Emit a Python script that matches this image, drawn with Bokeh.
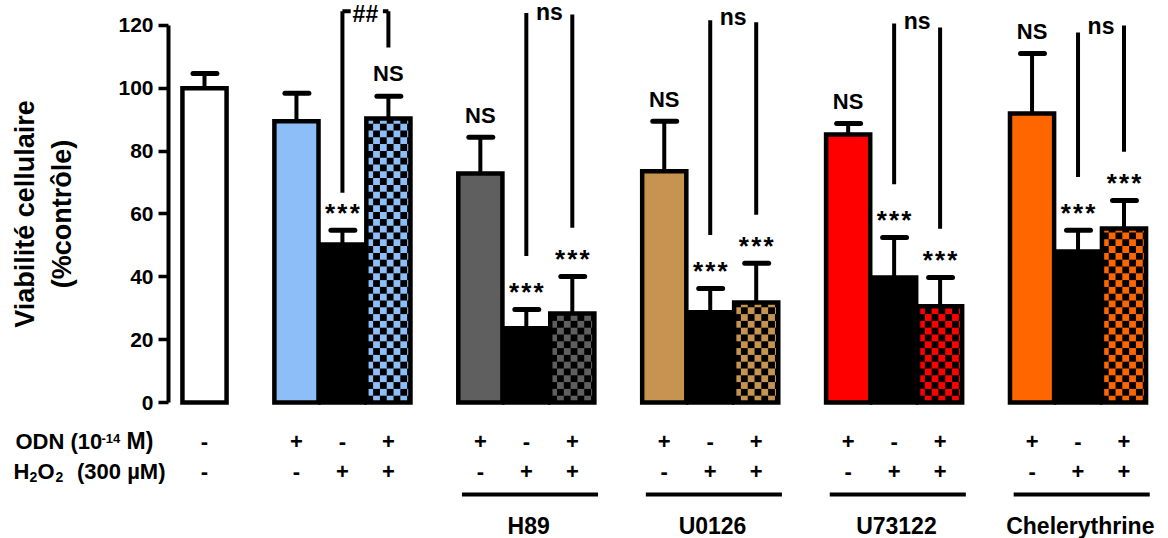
import math
from bokeh.plotting import figure
from bokeh.models import Range1d, FixedTicker
from bokeh.core.properties import value
from bokeh.embed import file_html
from bokeh.resources import INLINE

# ---------------- data ----------------
control_value = 100.0
control_error = 4.7
control_odn = "-"
control_h2o2 = "-"

inhibitors = ["", "H89", "U0126", "U73122", "Chelerythrine"]
colors = ["#8DBEF7", "#5F5F5F", "#C69450", "#FF0000", "#FF6600"]

odn_values = [89.5, 72.9, 73.6, 85.3, 92.0]
odn_errors = [8.9, 11.5, 15.9, 3.5, 19.1]
h2o2_values = [50.3, 23.6, 28.7, 39.8, 48.1]
h2o2_errors = [4.5, 6.0, 7.6, 12.7, 6.7]
combo_values = [90.4, 28.3, 31.8, 30.6, 55.4]
combo_errors = [7.1, 11.8, 12.5, 9.2, 8.9]

odn_row = ["+", "-", "+"]
h2o2_row = ["-", "+", "+"]

sig_odn = ["", "NS", "NS", "NS", "NS"]
sig_h2o2 = ["***", "***", "***", "***", "***"]
sig_combo = ["NS", "***", "***", "***", "***"]
sig_pair = ["##", "ns", "ns", "ns", "ns"]

odn_title = ["ODN (10", "-14", "M)"]
h2o2_title = ["H", "2", "O", "2", "(300 µM)"]
y_title = "Viabilité cellulaire\n(%contrôle)"

# ---------------- layout constants ----------------
FONT = "Liberation Sans"
W, H = 1168, 538
PX_X0, PX_PER_X = 204.0, 45.975     # page x of bar 0, px per bar slot
PX_Y0, PX_PER_Y = 402.0, 3.1417     # page y of 0 %, px per %


def dx(px_):
    return (px_ - PX_X0) / PX_PER_X


def dy(py_):
    return (PX_Y0 - py_) / PX_PER_Y


pair_left_top = [124.5, 124.0, 121.7, 120.6, 117.8]
pair_right_top = [124.5, 123.5, 121.0, 119.4, 120.0]
pair_label_y = [123.6, 124.3, 122.8, 121.3, 119.7]
pair_left_gap = [12.0, 17.0, 17.0, 17.0, 17.0]
pair_right_gap = 15.5
ROW_ODN = dy(440.5)
ROW_H2O2 = dy(470.5)
UNDERLINE_Y = dy(494)
NAME_Y = dy(525)
BAR_W = 0.96
CHECK_PX = 6.8

ctrl_x = 0
gx = [[2 + 4 * g + k for k in range(3)] for g in range(len(inhibitors))]

p = figure(width=W, height=H,
           x_range=Range1d(dx(0), dx(W)), y_range=Range1d(dy(H), dy(0)),
           output_backend="svg", toolbar_location=None, x_axis_location=None,
           min_border_left=0, min_border_right=0, min_border_top=0, min_border_bottom=0,
           outline_line_color=None)
p.grid.visible = False

ya = p.yaxis[0]
ya.fixed_location = dx(168)
ya.ticker = FixedTicker(ticks=[0, 20, 40, 60, 80, 100, 120])
ya.bounds = (0, 120)
ya.axis_line_width = 4
ya.axis_line_color = "black"
ya.major_tick_line_width = 3.5
ya.major_tick_line_color = "black"
ya.major_tick_out = 10
ya.major_tick_in = 0
ya.minor_tick_line_color = None
ya.major_label_text_font = FONT
ya.major_label_text_font_style = "bold"
ya.major_label_text_font_size = "21px"
ya.major_label_text_color = "black"
ya.major_label_standoff = 5
ya.axis_label = y_title
ya.axis_label_text_font = FONT
ya.axis_label_text_font_style = "bold"
ya.axis_label_text_font_size = "27px"
ya.axis_label_text_color = "black"
ya.axis_label_text_line_height = 1.25
ya.axis_label_standoff = 38

# ----- bars -----
plain_x = [ctrl_x]
plain_top = [control_value]
plain_fill = ["white"]
for g in range(len(inhibitors)):
    plain_x += [gx[g][0], gx[g][1]]
    plain_top += [odn_values[g], h2o2_values[g]]
    plain_fill += [colors[g], "black"]

p.vbar(x=plain_x, top=plain_top, bottom=0, width=BAR_W, fill_color=plain_fill,
       line_color="black", line_width=4.5, line_join="miter")

combo_x = [gx[g][2] for g in range(len(inhibitors))]
p.vbar(x=combo_x, top=combo_values, bottom=0, width=BAR_W, fill_color=colors, line_color=None)

# checkerboard (black squares) over the combined-treatment bars
sx = CHECK_PX / PX_PER_X
sy = CHECK_PX / PX_PER_Y
ql, qr, qb, qt = [], [], [], []
for xc, top in zip(combo_x, combo_values):
    left_edge, right_edge = xc - BAR_W / 2, xc + BAR_W / 2
    ncol = math.ceil(BAR_W / sx)
    nrow = math.ceil(top / sy)
    for i in range(ncol):
        for j in range(nrow):
            if (i + j) % 2 == 0:
                l = left_edge + i * sx
                b = j * sy
                ql.append(l); qr.append(min(l + sx, right_edge))
                qb.append(b); qt.append(min(b + sy, top))
p.quad(left=ql, right=qr, bottom=qb, top=qt, fill_color="black", line_color=None)
p.vbar(x=combo_x, top=combo_values, bottom=0, width=BAR_W, fill_color=None,
       line_color="black", line_width=4.5, line_join="miter")

# ----- error bars (upper only) -----
all_x = plain_x + combo_x
all_top = plain_top + combo_values
all_err = [control_error]
for g in range(len(inhibitors)):
    all_err += [odn_errors[g], h2o2_errors[g]]
all_err += combo_errors
err_top = [t + e for t, e in zip(all_top, all_err)]
p.segment(x0=all_x, y0=all_top, x1=all_x, y1=err_top, line_color="black", line_width=4)
p.segment(x0=[x - 0.25 for x in all_x], y0=err_top, x1=[x + 0.27 for x in all_x], y1=err_top,
          line_color="black", line_width=5, line_cap="round")

# ----- significance labels vs control -----
lab_x, lab_y, lab_t, ast_x, ast_y = [], [], [], [], []
for g in range(len(inhibitors)):
    tops = [odn_values[g] + odn_errors[g], h2o2_values[g] + h2o2_errors[g],
            combo_values[g] + combo_errors[g]]
    for k, s in enumerate([sig_odn[g], sig_h2o2[g], sig_combo[g]]):
        if s == "NS":
            lab_x.append(gx[g][k]); lab_y.append(tops[k] + 7.1); lab_t.append(s)
        elif s == "***":
            ast_x.append(gx[g][k]); ast_y.append(tops[k] + 5.5)

p.text(x=lab_x, y=lab_y, text=lab_t, text_font=value(FONT), text_font_style="bold",
       text_font_size="22px", text_align="center", text_baseline="middle", text_color="black")
p.text(x=ast_x, y=ast_y, text=["*\u200a*\u200a*"] * len(ast_x), text_font=value(FONT),
       text_font_style="bold", text_font_size="26px", text_align="center",
       text_baseline="middle", text_color="black")

# ----- pairwise comparisons (H2O2 vs ODN + H2O2) -----
x0s, y0s, x1s, y1s = [], [], [], []
for g in range(len(inhibitors)):
    xl, xr = gx[g][1], gx[g][2]
    lb = h2o2_values[g] + h2o2_errors[g] + pair_left_gap[g]
    rb = combo_values[g] + combo_errors[g] + pair_right_gap
    x0s += [xl, xr]; y0s += [lb, rb]; x1s += [xl, xr]; y1s += [pair_left_top[g], pair_right_top[g]]
    if sig_pair[g] == "##":
        x0s += [xl, xr - 0.12]; y0s += [pair_left_top[g], pair_right_top[g]]
        x1s += [xl + 0.18, xr]; y1s += [pair_left_top[g], pair_right_top[g]]
p.segment(x0=x0s, y0=y0s, x1=x1s, y1=y1s, line_color="black", line_width=4)

pair_x = [(gx[g][1] + gx[g][2]) / 2 for g in range(len(inhibitors))]
p.text(x=pair_x, y=pair_label_y, text=sig_pair, text_font=value(FONT), text_font_style="bold",
       text_font_size="23px", text_align="center", text_baseline="middle", text_color="black")

# ----- condition rows -----
row_x = [ctrl_x] + [x for g in range(len(inhibitors)) for x in gx[g]]
row_odn = [control_odn] + odn_row * len(inhibitors)
row_h2o2 = [control_h2o2] + h2o2_row * len(inhibitors)
p.text(x=row_x, y=[ROW_ODN] * len(row_x), text=row_odn, text_font=value(FONT),
       text_font_style="bold", text_font_size="22px", text_align="center",
       text_baseline="middle", text_color="black")
p.text(x=row_x, y=[ROW_H2O2] * len(row_x), text=row_h2o2, text_font=value(FONT),
       text_font_style="bold", text_font_size="22px", text_align="center",
       text_baseline="middle", text_color="black")

# underlines + inhibitor names
ul_x0 = [gx[g][0] - 0.40 for g in range(1, len(inhibitors))]
ul_x1 = [gx[g][2] + 0.56 for g in range(1, len(inhibitors))]
p.segment(x0=ul_x0, y0=[UNDERLINE_Y] * len(ul_x0), x1=ul_x1, y1=[UNDERLINE_Y] * len(ul_x0),
          line_color="black", line_width=4)
p.text(x=[gx[g][1] + 0.05 for g in range(1, len(inhibitors))], y=[NAME_Y] * (len(inhibitors) - 1),
       text=inhibitors[1:], text_font=value(FONT), text_font_style="bold", text_font_size="23px",
       text_align="center", text_baseline="middle", text_color="black")

# ----- row titles (left of the axis) -----
def txt(xs, ys, ts, size, align="left"):
    p.text(x=xs, y=ys, text=ts, text_font=value(FONT), text_font_style="bold",
           text_font_size=size, text_align=align, text_baseline="middle", text_color="black")

txt([dx(15)], [ROW_ODN], [odn_title[0]], "22px")
txt([dx(101)], [dy(437.5)], [odn_title[1]], "13px")
txt([dx(126)], [ROW_ODN], [odn_title[2]], "23px")
txt([dx(13), dx(37)], [ROW_H2O2, ROW_H2O2], [h2o2_title[0], h2o2_title[2]], "22px")
txt([dx(29), dx(55)], [dy(476), dy(476)], [h2o2_title[1], h2o2_title[3]], "14px")
txt([dx(165)], [ROW_H2O2], [h2o2_title[4]], "22px", "right")

open("out.html", "w").write(file_html(p, INLINE))
